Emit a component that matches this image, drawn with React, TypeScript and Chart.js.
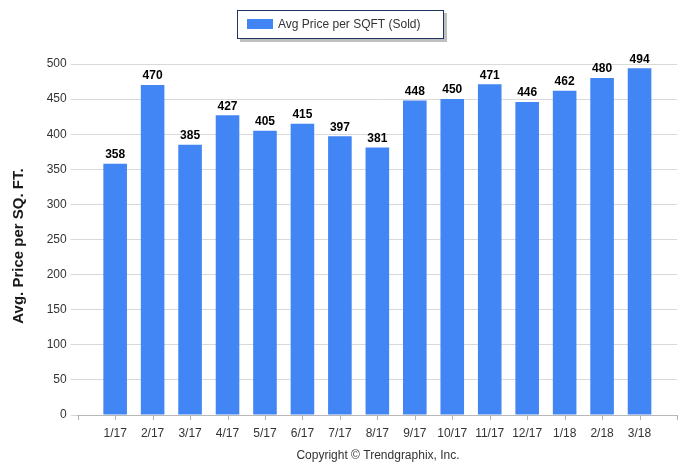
import React, { useEffect, useRef } from "react";
import { Chart, registerables } from "chart.js";

Chart.register(...registerables);

const categories: string[] = ["1/17", "2/17", "3/17", "4/17", "5/17", "6/17", "7/17", "8/17", "9/17", "10/17", "11/17", "12/17", "1/18", "2/18", "3/18"];
const avgPriceSold: number[] = [358, 470, 385, 427, 405, 415, 397, 381, 448, 450, 471, 446, 462, 480, 494];
const yTicks: number[] = [0, 50, 100, 150, 200, 250, 300, 350, 400, 450, 500];
const seriesName = "Avg Price per SQFT (Sold)";
const yTitle = "Avg. Price per SQ. FT.";
const footer = "Copyright \u00A9 Trendgraphix, Inc.";

const FONT = "'Liberation Sans', Arial, sans-serif";
const BAR = "#4285f4";

export default function App() {
  const ref = useRef<HTMLCanvasElement | null>(null);
  useEffect(() => {
    document.body.style.margin = "0";
    const labels = ["", ...categories, ""];
    const data = [null, ...avgPriceSold, null];
    const extras = {
      id: "extras",
      afterDatasetsDraw(chart: any) {
        const ctx = chart.ctx;
        const meta = chart.getDatasetMeta(0);
        ctx.save();
        ctx.fillStyle = "#000";
        ctx.font = `bold 12px ${FONT}`;
        ctx.textAlign = "center";
        ctx.textBaseline = "bottom";
        meta.data.forEach((el: any, i: number) => {
          const v = data[i];
          if (v == null) return;
          ctx.fillText(String(v), el.x, el.y - 3);
        });
        ctx.restore();
      },
      afterDraw(chart: any) {
        const ctx = chart.ctx;
        const xs = chart.scales.x;
        const y0 = Math.round(chart.chartArea.bottom);
        ctx.save();
        ctx.strokeStyle = "#b4b4b4";
        ctx.lineWidth = 1;
        for (let i = 0; i < labels.length; i++) {
          const px = Math.round(xs.getPixelForValue(i)) + 0.5;
          ctx.beginPath();
          ctx.moveTo(px, y0);
          ctx.lineTo(px, y0 + 5);
          ctx.stroke();
        }
        ctx.restore();
        ctx.save();
        ctx.translate(19, 246);
        ctx.rotate(-Math.PI / 2);
        ctx.fillStyle = "#1a1a1a";
        ctx.font = `bold 15px ${FONT}`;
        ctx.textAlign = "center";
        ctx.textBaseline = "middle";
        ctx.fillText(yTitle, 0, 0);
        ctx.restore();
        ctx.save();
        ctx.fillStyle = "#333";
        ctx.font = `12px ${FONT}`;
        ctx.textAlign = "center";
        ctx.textBaseline = "middle";
        ctx.fillText(footer, 378, 456);
        ctx.restore();
        ctx.save();
        ctx.fillStyle = "rgba(0,0,0,0.25)";
        ctx.fillRect(240, 13, 207, 29);
        ctx.fillStyle = "#fff";
        ctx.fillRect(237, 10, 207, 29);
        ctx.strokeStyle = "#1f3560";
        ctx.lineWidth = 1;
        ctx.strokeRect(237.5, 10.5, 206, 28);
        ctx.fillStyle = BAR;
        ctx.fillRect(247, 19, 26, 10);
        ctx.fillStyle = "#333";
        ctx.font = `12px ${FONT}`;
        ctx.textAlign = "left";
        ctx.textBaseline = "middle";
        ctx.fillText(seriesName, 278, 24.5);
        ctx.restore();
      },
    };
    const chart = new Chart(ref.current as HTMLCanvasElement, {
      type: "bar",
      data: {
        labels,
        datasets: [
          {
            label: seriesName,
            data,
            backgroundColor: BAR,
            borderWidth: 0,
            barPercentage: 0.63,
            categoryPercentage: 1,
          },
        ],
      },
      options: {
        animation: false,
        responsive: false,
        maintainAspectRatio: false,
        layout: { padding: { top: 64, left: 0, right: 22, bottom: 0 } },
        plugins: { legend: { display: false }, tooltip: { enabled: false }, title: { display: false } },
        scales: {
          x: {
            offset: false,
            afterFit: (s: any) => { s.height = 58; },
            grid: { display: false, offset: false, drawOnChartArea: false },
            border: { display: true, color: "#b8b8b8" },
            ticks: { autoSkip: false, maxRotation: 0, padding: 3, color: "#333", font: { family: FONT, size: 12 } },
          },
          y: {
            min: 0,
            max: 500,
            afterFit: (s: any) => { s.width = 77.7; },
            afterBuildTicks: (s: any) => { s.ticks = yTicks.map((v) => ({ value: v })); },
            grid: { color: "#d9d9d9", tickLength: 7 },
            border: { display: false },
            ticks: { padding: 4, color: "#333", font: { family: FONT, size: 12 } },
          },
        },
      },
      plugins: [extras],
    } as any);
    return () => chart.destroy();
  }, []);
  return (
    <div style={{ position: "absolute", left: 0, top: 0, width: 699, height: 473, background: "#fff" }}>
      <canvas ref={ref} width={699} height={473} style={{ width: 699, height: 473 }} />
    </div>
  );
}
